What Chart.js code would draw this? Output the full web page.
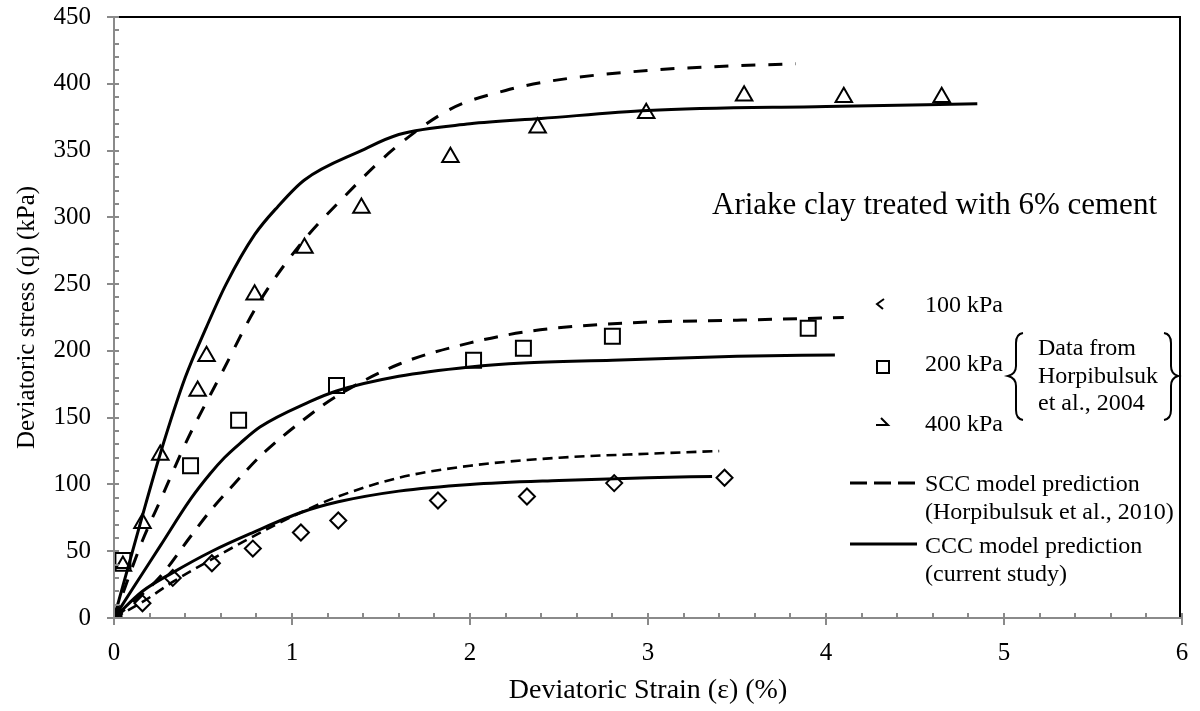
<!DOCTYPE html>
<html>
<head>
<meta charset="utf-8">
<script src="https://cdn.jsdelivr.net/npm/chart.js@4.4.1/dist/chart.umd.min.js"></script>
<style>
  html, body { margin: 0; padding: 0; background: #ffffff; }
  #wrap { width: 1200px; height: 711px; position: relative; }
</style>
</head>
<body>
<div id="wrap"><canvas id="c" width="1200" height="711"></canvas></div>
<script>
// Measured triaxial data (Horpibulsuk et al., 2004)
const strain100 = [0, 0.16, 0.33, 0.55, 0.78, 1.05, 1.26, 1.82, 2.32, 2.81, 3.43];
const stress100 = [0, 11, 30, 41, 52, 64, 73, 88, 91, 101, 105];
const strain200 = [0, 0.05, 0.43, 0.70, 1.25, 2.02, 2.30, 2.80, 3.90];
const stress200 = [0, 43, 114, 148, 174, 193, 202, 211, 217];
const strain400 = [0, 0.05, 0.16, 0.26, 0.47, 0.52, 0.79, 1.07, 1.39, 1.89, 2.38, 2.99, 3.54, 4.10, 4.65];
const stress400 = [0, 39, 71, 122, 170, 196, 242, 277, 307, 345, 367, 378, 391, 390, 390];

// SCC model prediction (Horpibulsuk et al., 2010)
const sccStrain100 = [0, 0.16, 0.33, 0.55, 0.78, 1.05, 1.26, 1.6, 2.0, 2.5, 3.0, 3.4];
const sccStress100 = [0, 12, 27, 44, 61, 79, 91, 105, 114, 120, 123, 125];
const sccStrain200 = [0, 0.1, 0.26, 0.43, 0.54, 0.7, 0.82, 1.1, 1.25, 1.6, 2.0, 2.35, 2.9, 3.5, 4.1];
const sccStress200 = [0, 11, 31, 61, 80, 104, 121, 152, 166, 190, 206, 215, 221, 223, 225];
const sccStrain400 = [0, 0.16, 0.26, 0.41, 0.6, 0.8, 1.03, 1.29, 1.57, 1.89, 2.2, 2.45, 3.0, 3.4, 3.83];
const sccStress400 = [0, 58, 88, 133, 182, 233, 277, 315, 351, 381, 395, 402, 410, 413, 415];

// CCC model prediction (current study)
const cccStrain100 = [0, 0.16, 0.33, 0.55, 0.78, 1.05, 1.26, 1.6, 2.0, 2.5, 3.0, 3.36];
const cccStress100 = [0, 20, 34, 50, 64, 79, 87, 95, 100, 103, 105, 106];
const cccStrain200 = [0, 0.1, 0.26, 0.43, 0.54, 0.62, 0.71, 0.82, 1.1, 1.25, 1.6, 2.0, 2.3, 2.8, 3.5, 4.05];
const cccStress200 = [0, 21, 54, 89, 108, 120, 131, 143, 162, 170, 181, 188, 191, 193, 196, 197];
const cccStrain400 = [0, 0.15, 0.26, 0.4, 0.52, 0.63, 0.79, 0.92, 1.07, 1.39, 1.6, 2.0, 2.4, 3.0, 4.0, 4.85];
const cccStress400 = [0, 72, 123, 180, 218, 250, 287, 308, 328, 350, 362, 370, 374, 380, 383, 385];

// Axis ticks
const xTicks = [0, 1, 2, 3, 4, 5, 6];
const yTicks = [0, 50, 100, 150, 200, 250, 300, 350, 400, 450];

const legendLabels = ['100 kPa', '200 kPa', '400 kPa'];
const sourceLines = ['Data from', 'Horpibulsuk', 'et al., 2004'];
const sccLabel = ['SCC model prediction', '(Horpibulsuk et al., 2010)'];
const cccLabel = ['CCC model prediction', '(current study)'];
const noteText = 'Ariake clay treated with 6% cement';

const SERIF = '"Liberation Serif", "Times New Roman", serif';
const AXIS_GREY = '#8a8a8a';

const pts = (xs, ys) => xs.map((x, i) => ({ x: x, y: ys[i] }));

function curve(xs, ys, dash, width) {
  return {
    type: 'line', data: pts(xs, ys), borderColor: '#000', borderWidth: width,
    borderDash: dash, pointRadius: 0, fill: false,
    cubicInterpolationMode: 'monotone', order: 2
  };
}
function marks(xs, ys, style, radius) {
  return {
    type: 'scatter', data: pts(xs, ys), pointStyle: style, pointRadius: radius,
    pointHoverRadius: radius, pointBorderColor: '#000', pointBackgroundColor: 'rgba(255,255,255,0)',
    pointBorderWidth: 2, showLine: false, order: 1
  };
}

function noPad(s) {
  s.paddingLeft = 0; s.paddingRight = 0; s.paddingTop = 0; s.paddingBottom = 0;
}

// Axis lines, ticks, frame and in-plot legend
const decor = {
  id: 'decor',
  afterDraw(chart) {
    const ctx = chart.ctx;
    const xs = chart.scales.x, ys = chart.scales.y;
    const a = chart.chartArea;
    ctx.save();
    // top and right frame
    ctx.strokeStyle = '#000';
    ctx.lineWidth = 2;
    ctx.beginPath();
    ctx.moveTo(a.left + 4, a.top);
    ctx.lineTo(a.right - 2, a.top);
    ctx.lineTo(a.right - 2, a.bottom);
    ctx.stroke();

    // grey axes
    ctx.strokeStyle = AXIS_GREY;
    ctx.lineWidth = 2;
    ctx.beginPath();
    ctx.moveTo(a.left, a.top);
    ctx.lineTo(a.left, a.bottom);
    ctx.lineTo(a.right, a.bottom);
    ctx.stroke();

    ctx.beginPath();
    for (let v = 0; v <= 450; v += 10) {
      const y = Math.round(ys.getPixelForValue(v));
      if (v % 50 === 0) { ctx.moveTo(a.left - 7, y); ctx.lineTo(a.left + 5, y); }
      else { ctx.moveTo(a.left, y); ctx.lineTo(a.left + 5, y); }
    }
    for (let i = 0; i <= 30; i++) {
      const v = i * 0.2;
      const x = Math.round(xs.getPixelForValue(v));
      if (i % 5 === 0) { ctx.moveTo(x, a.bottom - 5); ctx.lineTo(x, a.bottom + 7); }
      else { ctx.moveTo(x, a.bottom - 5); ctx.lineTo(x, a.bottom); }
    }
    ctx.stroke();

    // legend
    ctx.fillStyle = '#000';
    ctx.strokeStyle = '#000';
    ctx.font = '24px ' + SERIF;
    ctx.textBaseline = 'middle';
    ctx.textAlign = 'left';

    ctx.lineWidth = 2;
    // diamond marker (partly shown)
    ctx.beginPath();
    ctx.moveTo(884, 299); ctx.lineTo(877, 304); ctx.lineTo(883, 309);
    ctx.stroke();
    // square marker
    ctx.strokeRect(877, 361, 12, 12);
    // triangle marker (partly shown)
    ctx.beginPath();
    ctx.moveTo(881, 418); ctx.lineTo(888, 425); ctx.lineTo(876, 425);
    ctx.stroke();

    ctx.fillText(legendLabels[0], 925, 306);
    ctx.fillText(legendLabels[1], 925, 365);
    ctx.fillText(legendLabels[2], 925, 425);
    ctx.fillText(sourceLines[0], 1038, 349);
    ctx.fillText(sourceLines[1], 1038, 377);
    ctx.fillText(sourceLines[2], 1038, 404);

    // braces around the source note
    ctx.lineWidth = 2;
    ctx.beginPath();
    ctx.moveTo(1023, 333);
    ctx.quadraticCurveTo(1016, 334, 1016, 343);
    ctx.lineTo(1016, 366);
    ctx.quadraticCurveTo(1016, 374, 1008, 376);
    ctx.quadraticCurveTo(1016, 378, 1016, 386);
    ctx.lineTo(1016, 410);
    ctx.quadraticCurveTo(1016, 419, 1023, 420);
    ctx.stroke();
    ctx.beginPath();
    ctx.moveTo(1164, 333);
    ctx.quadraticCurveTo(1171, 334, 1171, 343);
    ctx.lineTo(1171, 366);
    ctx.quadraticCurveTo(1171, 374, 1178, 376);
    ctx.quadraticCurveTo(1171, 378, 1171, 386);
    ctx.lineTo(1171, 410);
    ctx.quadraticCurveTo(1171, 419, 1164, 420);
    ctx.stroke();

    // line keys
    ctx.lineWidth = 3;
    ctx.setLineDash([17, 7]);
    ctx.beginPath(); ctx.moveTo(850, 483); ctx.lineTo(917, 483); ctx.stroke();
    ctx.setLineDash([]);
    ctx.beginPath(); ctx.moveTo(850, 544); ctx.lineTo(917, 544); ctx.stroke();

    ctx.fillText(sccLabel[0], 925, 485);
    ctx.fillText(sccLabel[1], 925, 513);
    ctx.fillText(cccLabel[0], 925, 547);
    ctx.fillText(cccLabel[1], 925, 575);

    ctx.font = '31px ' + SERIF;
    ctx.textBaseline = 'alphabetic';
    ctx.fillText(noteText, 712, 214);
    ctx.restore();
  }
};

new Chart(document.getElementById('c'), {
  data: {
    datasets: [
      marks(strain100, stress100, 'rectRot', 8),
      marks(strain200, stress200, 'rect', 10.6),
      marks(strain400, stress400, 'triangle', 9.5),
      curve(sccStrain100, sccStress100, [10, 6], 2.6),
      curve(sccStrain200, sccStress200, [14, 11], 3),
      curve(sccStrain400, sccStress400, [14, 13], 3),
      curve(cccStrain100, cccStress100, [], 3),
      curve(cccStrain200, cccStress200, [], 3),
      curve(cccStrain400, cccStress400, [], 3)
    ]
  },
  options: {
    responsive: false,
    animation: false,
    devicePixelRatio: 1,
    layout: { padding: { left: 0, right: 18, top: 17, bottom: 0 } },
    plugins: { legend: { display: false }, tooltip: { enabled: false } },
    scales: {
      x: {
        type: 'linear', min: 0, max: 6,
        afterBuildTicks: s => { s.ticks = xTicks.map(v => ({ value: v })); },
        afterFit: s => { s.height = 93; noPad(s); },
        grid: { display: false, drawTicks: false },
        border: { display: false },
        ticks: { color: '#000', padding: 20, font: { family: SERIF, size: 25 } },
        title: {
          display: true, text: 'Deviatoric Strain (ε) (%)', color: '#000',
          font: { family: SERIF, size: 28 }, padding: { top: 0, bottom: 4 }
        }
      },
      y: {
        type: 'linear', min: 0, max: 450,
        afterBuildTicks: s => { s.ticks = yTicks.map(v => ({ value: v })); },
        afterFit: s => { s.width = 114; noPad(s); },
        grid: { display: false, drawTicks: false },
        border: { display: false },
        ticks: { color: '#000', padding: 23, font: { family: SERIF, size: 25 } },
        title: {
          display: true, text: 'Deviatoric stress (q) (kPa)', color: '#000',
          font: { family: SERIF, size: 25 }, padding: { top: 12, bottom: 0 }
        }
      }
    }
  },
  plugins: [decor]
});
</script>
</body>
</html>
